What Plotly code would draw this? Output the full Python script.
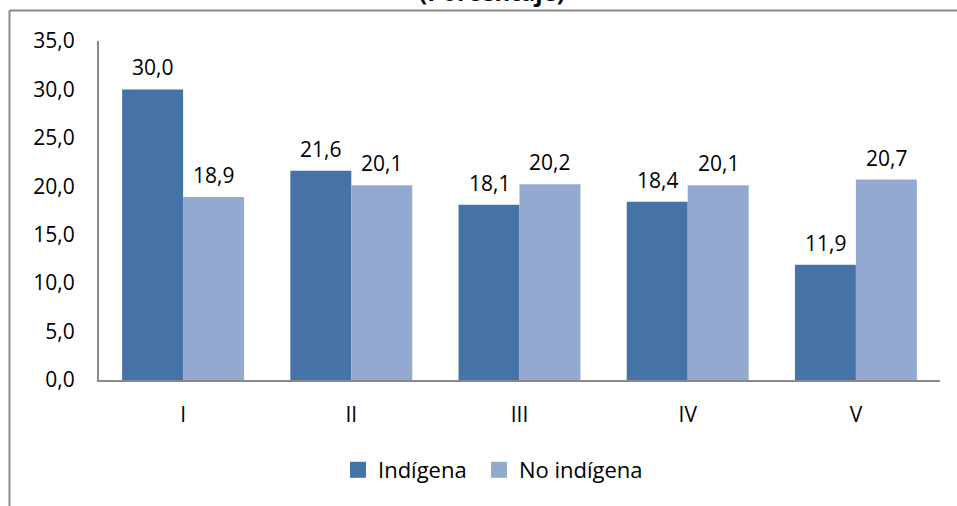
import plotly.graph_objects as go

categories = ["I", "II", "III", "IV", "V"]
indigena = [30.0, 21.6, 18.1, 18.4, 11.9]
no_indigena = [18.9, 20.1, 20.2, 20.1, 20.7]
series_names = ["Indígena", "No indígena"]
colors = ["#4572A7", "#94A9D0"]
title_text = "(Porcentaje)"

W, H = 957, 506
ML, MR, MT, MB = 99, 17, 41, 126
PW, PH = W - ML - MR, H - MT - MB
FONT = "Open Sans"
GRAY = "#8A8A8A"

def px_x(px):
    return (px - ML) / PW

def px_y(py):
    return (H - MB - py) / PH

def fmt(v):
    return f"{v:.1f}".replace(".", ",")

legend_ids = ["legend", "legend2"]
legend_px = [338, 479]

fig = go.Figure()
for name, vals, col, lg in zip(series_names, [indigena, no_indigena], colors, legend_ids):
    fig.add_trace(go.Bar(x=categories, y=vals, name=name, marker_color=col,
                         marker_line_width=0, showlegend=False))
    fig.add_trace(go.Scatter(x=[None], y=[None], mode="markers", name=name,
                             legend=lg,
                             marker=dict(symbol="square", size=16, color=col)))

cat_w = PW / len(categories)
bar_w = cat_w * 0.725 / 2
annotations = []
for vals, sh in [(indigena, -bar_w / 2), (no_indigena, bar_w / 2)]:
    for c, v in zip(categories, vals):
        annotations.append(dict(x=c, y=v, xref="x", yref="y", text=fmt(v),
                                showarrow=False, xshift=sh, yshift=22,
                                yanchor="middle",
                                font=dict(family=FONT, size=21, color="#000")))
annotations.append(dict(x=px_x(492), y=px_y(10), xref="paper", yref="paper",
                        text="<b>" + title_text + "</b>", showarrow=False,
                        xanchor="center", yanchor="bottom",
                        font=dict(family=FONT, size=24, color="#000")))

shapes = [
    dict(type="line", xref="paper", yref="paper", x0=px_x(9.5), x1=px_x(W + 5),
         y0=px_y(10.5), y1=px_y(10.5), line=dict(color=GRAY, width=2)),
    dict(type="line", xref="paper", yref="paper", x0=px_x(9.5), x1=px_x(9.5),
         y0=px_y(10.5), y1=px_y(H + 5), line=dict(color=GRAY, width=2)),
]

legend_style = dict(orientation="h", y=px_y(470), xanchor="left",
                    yanchor="middle", font=dict(family=FONT, size=22),
                    itemwidth=30, bgcolor="rgba(0,0,0,0)")

fig.update_layout(
    width=W, height=H,
    margin=dict(l=ML, r=MR, t=MT, b=MB, pad=0),
    paper_bgcolor="white", plot_bgcolor="white",
    barmode="group", bargap=0.275, bargroupgap=0,
    separators=",.",
    font=dict(family=FONT, size=21, color="#000"),
    annotations=annotations, shapes=shapes,
    legend=dict(x=px_x(legend_px[0]), **legend_style),
    legend2=dict(x=px_x(legend_px[1]), **legend_style),
    showlegend=True,
)
fig.update_xaxes(showline=True, linecolor=GRAY, linewidth=2, ticks="",
                 showgrid=False, ticklabelstandoff=15,
                 tickfont=dict(family=FONT, size=21))
fig.update_yaxes(range=[0, 35], dtick=5, tickformat=".1f", showline=True,
                 linecolor=GRAY, linewidth=2, ticks="", showgrid=False,
                 zeroline=False, ticklabelstandoff=18,
                 tickfont=dict(family=FONT, size=21))

fig.write_html("out.html", config={"displayModeBar": False},
               post_script="document.body.style.margin='0';document.body.style.overflow='hidden';")
